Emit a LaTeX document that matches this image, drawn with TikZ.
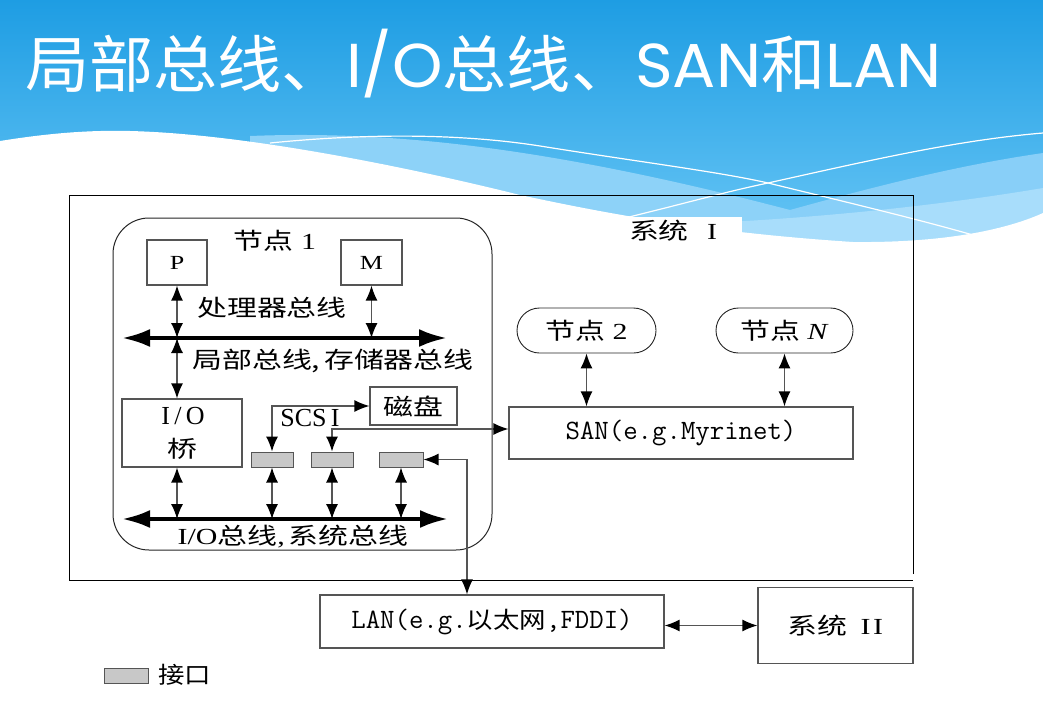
\documentclass[tikz,border=0pt]{standalone}
\usepackage{fontspec}
\usepackage{graphicx}
\setmainfont{Liberation Serif}
\newfontfamily\cjk{Noto Sans CJK SC}
\newfontfamily\titlelat{Poppins}
\usetikzlibrary{arrows.meta,shapes.misc}

\definecolor{skytop}{HTML}{1E9DE3}
\definecolor{skylow}{HTML}{66C5F5}
\definecolor{bandA}{HTML}{8DD2F8}
\definecolor{bandB}{HTML}{88CFF8}
\definecolor{bandC}{HTML}{A8DDFB}
\definecolor{edge}{HTML}{555555}
\definecolor{port}{HTML}{C8C8C8}

% Chinese text and horizontally widened diagram labels
\newcommand\zh[1]{{\cjk #1}}
\newcommand\lbl[2][23]{\scalebox{1.3}[1]{\fontsize{#1}{#1}\selectfont #2}}

\begin{document}
\begin{tikzpicture}[x=1pt, y=-1pt,
  box/.style={draw=edge, line width=1.2pt, fill=white, inner sep=0pt},
  pill/.style={draw=black!85, line width=0.9pt, rounded rectangle, fill=white, inner sep=0pt},
  portbox/.style={draw=edge, fill=port, line width=1pt, minimum width=42pt, minimum height=15pt, inner sep=0pt},
  link/.style={draw=edge, line width=1.3pt,
    {Latex[length=15pt,width=12pt,color=black]}-{Latex[length=15pt,width=12pt,color=black]}},
  hub/.style={draw=black, line width=4pt,
    {Latex[length=28pt,width=18pt]}-{Latex[length=28pt,width=18pt]}},
  tag/.style={inner sep=0pt}]
\useasboundingbox (0,0) rectangle (1043,712);

% slide background: sky gradient with light wave bands
\fill[white] (0,0) rectangle (1043,712);
\shade[top color=skytop, bottom color=skylow] (0,0) rectangle (1043,240);
\fill[bandA] (250,136) .. controls (400,130) and (560,150) .. (790,210) -- (790,300) -- (250,300) -- cycle;
\fill[bandB] (790,210) .. controls (880,185) and (960,165) .. (1043,153) -- (1043,300) -- (790,300) -- cycle;
\fill[bandC] (640,226) .. controls (760,222) and (900,212) .. (1043,188) -- (1043,300) -- (640,300) -- cycle;
\fill[white] (0,141) .. controls (50,133) and (90,130) .. (130,131)
  .. controls (250,134) and (420,170) .. (520,195)
  .. controls (600,212) and (700,232) .. (853,242)
  .. controls (950,243) and (1010,228) .. (1043,213) -- (1043,712) -- (0,712) -- cycle;
\draw[white, line width=1.2pt] (270,143) .. controls (380,132) and (470,135) .. (540,146)
  .. controls (640,162) and (720,172) .. (768,183) .. controls (850,203) and (930,222) .. (990,240);
\draw[white, line width=1.2pt] (600,224) .. controls (680,205) and (720,193) .. (768,183)
  .. controls (880,158) and (960,140) .. (1043,133);

% title
\node[anchor=base west, text=white, inner sep=0pt] (title) at (25,87)
  {\scalebox{1.035}[1]{\fontsize{62}{62}\selectfont\cjk 局部总线、{\titlelat I/O}总线、{\titlelat SAN}和{\titlelat LAN}}};

% system I frame
\draw[black, line width=1pt] (913,574) -- (913,195) -- (69,195) -- (69,580) -- (913,580);
\fill[white] (622,217) rectangle (742,250);
\node[tag] (sys1) at (673,231) {\lbl{\zh{系统}\hspace{14pt}I}};

% node 1
\node[draw=black!85, line width=1pt, rounded corners=36pt, minimum width=379pt, minimum height=332pt, inner sep=0pt] (node1) at (302.5,384) {};
\node[tag] (n1lbl) at (275,241) {\lbl{\zh{节点} 1}};
\node[box, minimum width=60pt, minimum height=45pt] (P) at (177,262.5) {\lbl[20]{P}};
\node[box, minimum width=61pt, minimum height=45pt] (M) at (371.5,262.5) {\lbl[20]{M}};
\coordinate (b1w) at (122,338);
\coordinate (b1e) at (447,338);
\draw[hub] (b1w) -- (b1e);
\node[tag] (pbus) at (272,308) {\lbl{\zh{处理器总线}}};
\node[tag] (lbus) at (333,361) {\lbl{\zh{局部总线,\hspace{3pt}存储器总线}}};

\node[box, minimum width=120pt, minimum height=68pt] (bridge) at (182,433) {};
\node[tag] (bridgeA) at (183,416) {\fontsize{26}{26}\selectfont I\,/\,O};
\node[tag] (bridgeB) at (182,449) {\lbl{\zh{桥}}};

\node[box, minimum width=87pt, minimum height=38pt] (disk) at (413.5,406) {\lbl{\zh{磁盘}}};
\node[tag] (scsi) at (310,418) {\fontsize{26}{26}\selectfont SCS\,I};

\node[portbox] (if1) at (272,459.5) {};
\node[portbox] (if2) at (332,459.5) {};
\node[portbox, minimum width=44pt] (if3) at (401,459.5) {};

\coordinate (b2w) at (122,519);
\coordinate (b2e) at (448,519);
\draw[hub] (b2w) -- (b2e);
\node[tag] (iobus) at (293,537) {\lbl{I/O\zh{总线},\hspace{3pt}\zh{系统总线}}};

% SAN side
\node[box, minimum width=344pt, minimum height=52pt] (san) at (681,433)
  {\fontsize{28}{28}\selectfont\ttfamily SAN(e.g.Myrinet)};
\node[pill, minimum width=139pt, minimum height=45pt] (n2) at (586.5,330.5) {\lbl{\zh{节点} 2}};
\node[pill, minimum width=137pt, minimum height=45pt] (nN) at (784.5,330.5) {\lbl{\zh{节点} \textit{N}}};

% LAN and system II
\node[box, minimum width=344pt, minimum height=53pt] (lan) at (492,621.5)
  {\fontsize{28}{28}\selectfont\ttfamily LAN(e.g.\scalebox{1.15}[1]{\fontsize{23}{23}\selectfont\cjk 以太网},FDDI)};
\node[box, minimum width=155pt, minimum height=76pt] (sys2) at (835.5,625.5) {\lbl{\zh{系统}\hspace{10pt}I\hspace{2pt}I}};

% legend
\node[portbox, minimum width=44pt] (legend) at (126,675.5) {};
\node[tag, anchor=west] (legendtxt) at (158,675) {\scalebox{1.15}[1]{\fontsize{23}{23}\selectfont\cjk 接口}};

% connectors
\draw[link] (P.south) -- (P.south |- b1w);
\draw[link] (M.south) -- (M.south |- b1w);
\draw[link] (P.south |- b1w) -- (P.south |- bridge.north);
\draw[link] (P.south |- bridge.south) -- (P.south |- b2w);
\draw[link] (if1.south) -- (if1.south |- b2w);
\draw[link] (if2.south) -- (if2.south |- b2w);
\draw[link] (if3.south) -- (if3.south |- b2w);
\draw[link] (if1.north) |- (disk.west);
\draw[link] (if2.north) |- ([yshift=4pt]san.west);
\draw[link] (if3.east) -| ([xshift=-25pt]lan.north);
\draw[link] (lan.east |- sys2.west) -- (sys2.west);
\draw[link] (n2.south) -- (n2.south |- san.north);
\draw[link] (nN.south) -- (nN.south |- san.north);
\end{tikzpicture}
\end{document}
